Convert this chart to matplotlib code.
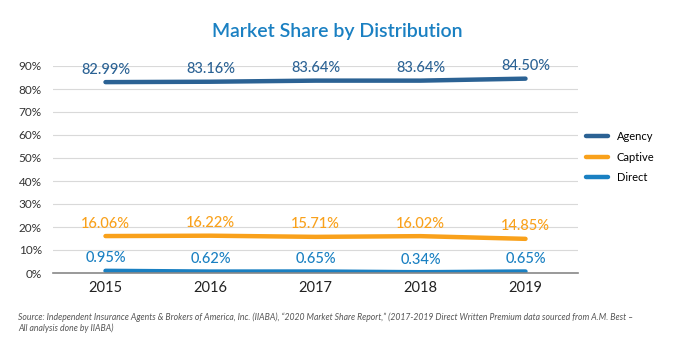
import matplotlib.pyplot as plt
from matplotlib.ticker import PercentFormatter

years = ["2015", "2016", "2017", "2018", "2019"]
agency = [82.99, 83.16, 83.64, 83.64, 84.50]
captive = [16.06, 16.22, 15.71, 16.02, 14.85]
direct = [0.95, 0.62, 0.65, 0.34, 0.65]

series = [
    ("Agency", agency, "#2b6294"),
    ("Captive", captive, "#f9a11b"),
    ("Direct", direct, "#1a80c2"),
]

plt.rcParams['font.family'] = ['Lato', 'DejaVu Sans']

fig = plt.figure(figsize=(6.74, 3.45), dpi=100)
ax = fig.add_axes([53 / 674, (345 - 273) / 345, 525 / 674, 207 / 345])

x = list(range(len(years)))
for name, vals, color in series:
    ax.plot(x, vals, color=color, linewidth=3.2, solid_capstyle='round', label=name)
    for xi, v in zip(x, vals):
        ax.annotate(f"{v:.2f}%", (xi, v), xytext=(0, 4), textcoords='offset points',
                    ha='center', va='bottom', fontsize=10.5, fontweight='medium', color=color)

ax.set_xlim(-0.5, len(years) - 0.5)
ax.set_ylim(0, 90)
ax.set_yticks(range(0, 91, 10))
ax.yaxis.set_major_formatter(PercentFormatter(decimals=0))
ax.set_xticks(x)
ax.set_xticklabels(years, fontsize=10.5, color='#222222')
ax.tick_params(axis='y', labelsize=8.5, colors='#333333', length=0, pad=8)
ax.tick_params(axis='x', length=0, pad=6)
ax.grid(axis='y', color='#d9d9d9', linewidth=0.8)
ax.set_axisbelow(True)
for side in ['top', 'right', 'left']:
    ax.spines[side].set_visible(False)
ax.spines['bottom'].set_color('#888888')
ax.spines['bottom'].set_linewidth(1.2)

ax.legend(loc='center left', bbox_to_anchor=(1.0, 0.56), frameon=False,
          fontsize=8, handlelength=2.0, labelspacing=0.85, borderaxespad=0.3)

fig.text(0.5, 0.91, "Market Share by Distribution", ha='center', va='center',
         fontsize=14, fontweight='semibold', color='#1a80c2')
fig.text(18 / 674, 1 - 312 / 345,
         "Source: Independent Insurance Agents & Brokers of America, Inc. (IIABA), \u201c2020 Market Share Report,\u201d "
         "(2017-2019 Direct Written Premium data sourced from A.M. Best \u2013\nAll analysis done by IIABA)",
         ha='left', va='top', fontsize=6.2, style='italic', color='#555555', linespacing=1.3)

fig.savefig("out.png", dpi=100)
